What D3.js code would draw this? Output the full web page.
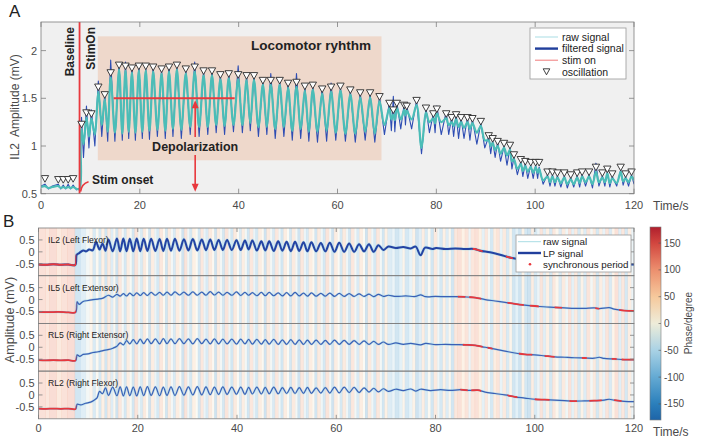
<!DOCTYPE html>
<html><head><meta charset="utf-8">
<script src="https://cdn.jsdelivr.net/npm/d3@7"></script>
<style>
body{margin:0;background:#fff}
text{font-family:"Liberation Sans",Arial,Helvetica,sans-serif}
</style>
</head><body>
<svg id="c" width="708" height="443"></svg>
<script>
// ===================== DATA =====================
const xTicks = [0,20,40,60,80,100,120];
const yTicksA = [0.5,1,1.5,2];
const yTicksB = [-0.5,0,0.5];
const cbTicks = [150,100,50,0,-50,-100,-150];

// Panel A: filtered (smooth) signal [time s, mV]
const filtered = [[0,0.57],[0.8,0.58],[1.5,0.56],[2.3,0.57],[3.5,0.58],[4.0,0.56],[4.5,0.57],[5.0,0.56],[5.5,0.57],[6.0,0.56],[6.5,0.57],[7.2,0.55],[7.8,0.55],
[8.0,1.05],[8.2,1.18],[8.6,1.02],[9.2,1.30],[9.7,1.10],[10.2,1.29],[10.9,1.12],[11.6,1.57],[12.3,1.22],[12.9,1.49],[13.5,1.15],
[14.1,1.72],[14.95,1.14],[15.8,1.80],[16.45,1.13],[17.1,1.79],[17.75,1.15],[18.4,1.77],[19.1,1.14],[19.8,1.79],[20.5,1.15],[21.2,1.79],[21.95,1.16],[22.7,1.78],[23.55,1.17],[24.4,1.76],[25.15,1.16],[25.9,1.78],[26.7,1.18],[27.5,1.80],[28.4,1.17],[29.3,1.76],[30.2,1.20],[31.1,1.78],[32.0,1.20],[32.9,1.74],[33.75,1.20],[34.6,1.74],[35.45,1.22],[36.3,1.70],[37.15,1.21],[38.0,1.71],[38.95,1.22],[39.9,1.70],[40.75,1.22],[41.6,1.69],[42.35,1.24],[43.1,1.69],[44.0,1.20],[44.9,1.64],[45.7,1.20],[46.5,1.64],[47.4,1.18],[48.3,1.64],[49.15,1.20],[50.0,1.61],[50.85,1.16],[51.7,1.62],[52.55,1.18],[53.4,1.58],[54.2,1.15],[55.0,1.59],[55.95,1.15],[56.9,1.55],[57.8,1.16],[58.7,1.57],[59.65,1.14],[60.6,1.58],[61.6,1.13],[62.6,1.54],[63.6,1.13],[64.6,1.51],[65.6,1.15],[66.6,1.51],[67.55,1.13],[68.5,1.47],[69.5,1.22],
[70.5,1.40],[70.9,1.28],[71.3,1.33],[71.6,1.27],[72.0,1.40],[72.8,1.28],[73.5,1.38],[73.75,1.32],[74.0,1.37],[75.0,1.28],[76.0,1.43],[77.0,0.98],[77.9,1.35],[78.6,1.25],[79.4,1.29],[79.75,1.24],[80.1,1.34],[81.0,1.25],[82.0,1.29],[82.5,1.22],[83.1,1.25],[83.5,1.21],[84.0,1.28],[84.5,1.20],[85.0,1.25],[85.6,1.19],[86.3,1.25],[86.8,1.18],[87.3,1.24],[88.2,1.14],[89.0,1.21],[89.8,1.06],[90.6,1.06],[91.0,1.00],[91.4,1.03],[91.9,0.96],[92.4,1.00],[93.0,0.92],[93.7,0.98],[94.3,0.90],[94.9,0.96],[95.3,0.84],[95.7,0.86],[96.4,0.76],[97.1,0.81],[97.5,0.74],[98.0,0.79],[98.5,0.73],[99.1,0.78],[99.6,0.72],[100.1,0.78],[100.5,0.72],[100.8,0.76],[101.6,0.64],[102.5,0.68],[103.0,0.62],[103.5,0.68],[104.0,0.62],[104.5,0.67],[105.2,0.61],[105.9,0.67],[106.5,0.60],[107.2,0.65],[107.8,0.60],[108.5,0.67],[109.0,0.61],[109.5,0.68],[110.2,0.62],[110.9,0.68],[111.6,0.60],[112.3,0.73],[112.9,0.62],[113.6,0.67],[114.1,0.62],[114.6,0.71],[115.1,0.61],[115.6,0.66],[116.5,0.61],[117.3,0.73],[117.8,0.63],[118.3,0.66],[118.9,0.62],[119.5,0.68],[120.0,0.64]];

// Panel A: raw (noisy) signal [time s, mV]
const raw = [[0,0.58],[0.8,0.60],[1.5,0.55],[2.3,0.58],[3.5,0.60],[4.0,0.55],[4.5,0.59],[5.0,0.55],[5.5,0.60],[6.0,0.55],[6.5,0.59],[7.2,0.54],[7.8,0.56],
[8.0,0.90],[8.2,1.30],[8.6,0.88],[9.2,1.42],[9.7,0.98],[10.2,1.38],[10.9,1.00],[11.6,1.68],[12.3,1.10],[12.9,1.55],[13.5,1.05],
[14.1,1.90],[14.95,1.05],[15.8,1.86],[16.45,1.06],[17.1,1.88],[17.75,1.08],[18.4,1.83],[19.1,1.06],[19.8,1.85],[20.5,1.08],[21.2,1.83],[21.95,1.07],[22.7,1.84],[23.55,1.10],[24.4,1.81],[25.15,1.08],[25.9,1.85],[26.7,1.10],[27.5,1.84],[28.4,1.08],[29.3,1.80],[30.2,1.12],[31.1,1.88],[32.0,1.10],[32.9,1.79],[33.75,1.12],[34.6,1.80],[35.45,1.14],[36.3,1.75],[37.15,1.12],[38.0,1.77],[38.95,1.15],[39.9,1.84],[40.75,1.14],[41.6,1.74],[42.35,1.16],[43.1,1.74],[44.0,1.10],[44.9,1.69],[45.7,1.12],[46.5,1.76],[47.4,1.08],[48.3,1.69],[49.15,1.10],[50.0,1.66],[50.85,1.06],[51.7,1.76],[52.55,1.08],[53.4,1.63],[54.2,1.05],[55.0,1.64],[55.95,1.04],[56.9,1.61],[57.8,1.05],[58.7,1.66],[59.65,1.06],[60.6,1.62],[61.6,1.05],[62.6,1.58],[63.6,1.04],[64.6,1.56],[65.6,1.06],[66.6,1.55],[67.55,1.04],[68.5,1.52],[69.5,1.12],
[70.5,1.46],[70.9,1.16],[71.3,1.52],[71.6,1.15],[72.0,1.46],[72.8,1.18],[73.5,1.44],[73.75,1.22],[74.0,1.42],[75.0,1.18],[76.0,1.48],[77.0,0.92],[77.9,1.40],[78.6,1.14],[79.4,1.34],[79.75,1.14],[80.1,1.42],[81.0,1.12],[82.0,1.36],[82.5,1.12],[83.1,1.30],[83.5,1.10],[84.0,1.34],[84.5,1.08],[85.0,1.30],[85.6,1.08],[86.3,1.30],[86.8,1.06],[87.3,1.28],[88.2,1.02],[89.0,1.24],[89.8,0.98],[90.6,1.10],[91.0,0.92],[91.4,1.06],[91.9,0.88],[92.4,1.04],[93.0,0.84],[93.7,1.00],[94.3,0.80],[94.9,0.98],[95.3,0.76],[95.7,0.88],[96.4,0.70],[97.1,0.84],[97.5,0.68],[98.0,0.82],[98.5,0.66],[99.1,0.80],[99.6,0.66],[100.1,0.80],[100.5,0.66],[100.8,0.78],[101.6,0.60],[102.5,0.70],[103.0,0.58],[103.5,0.70],[104.0,0.58],[104.5,0.69],[105.2,0.57],[105.9,0.69],[106.5,0.56],[107.2,0.67],[107.8,0.57],[108.5,0.69],[109.0,0.57],[109.5,0.70],[110.2,0.58],[110.9,0.70],[111.6,0.56],[112.3,0.82],[112.9,0.58],[113.6,0.69],[114.1,0.58],[114.6,0.73],[115.1,0.57],[115.6,0.68],[116.5,0.58],[117.3,0.75],[117.8,0.59],[118.3,0.68],[118.9,0.58],[119.5,0.70],[120.0,0.60]];

// Panel A: detected oscillation peaks [time s, mV]
const oscillation = [[0.8,0.61],[3.5,0.60],[4.5,0.60],[5.5,0.60],[6.5,0.61],[8.2,1.18],[9.2,1.30],[10.2,1.29],[11.6,1.57],[12.9,1.49],[14.1,1.72],[15.8,1.80],[17.1,1.79],[18.4,1.77],[19.8,1.79],[21.2,1.79],[22.7,1.78],[24.4,1.76],[25.9,1.78],[27.5,1.80],[29.3,1.76],[31.1,1.78],[32.9,1.74],[34.6,1.74],[36.3,1.70],[38.0,1.71],[39.9,1.70],[41.6,1.69],[43.1,1.69],[44.9,1.64],[46.5,1.64],[48.3,1.64],[50.0,1.61],[51.7,1.62],[53.4,1.58],[55.0,1.59],[56.9,1.55],[58.7,1.57],[60.6,1.58],[62.6,1.54],[64.6,1.51],[66.6,1.51],[68.5,1.47],[70.5,1.40],[71.3,1.33],[72.0,1.40],[73.5,1.38],[74.0,1.37],[76.0,1.43],[77.9,1.35],[79.4,1.29],[80.1,1.34],[82.0,1.29],[83.1,1.25],[84.0,1.28],[85.0,1.25],[86.3,1.25],[87.3,1.24],[89.0,1.21],[90.6,1.06],[91.4,1.03],[92.4,1.00],[93.7,0.98],[94.9,0.96],[95.7,0.86],[97.1,0.81],[98.0,0.79],[99.1,0.78],[100.1,0.78],[100.8,0.78],[102.5,0.68],[103.5,0.68],[104.5,0.67],[105.9,0.67],[107.2,0.65],[108.5,0.67],[109.5,0.68],[110.9,0.68],[112.3,0.73],[113.6,0.67],[114.6,0.71],[115.6,0.66],[117.3,0.73],[118.3,0.66],[119.5,0.68]];

// Panel A annotations (data units)
const stimOnTime = 7.8;
const rhythmSpan = [11.5, 68.9];
const rhythmRange = [0.85, 2.15];
const depolLevel = 1.5;
const depolSpan = [14.7, 39.2];
const depolArrowTime = 31.2;

// Panel B: LP signals [time s, mV]
const il2 = [[0,-0.53],[1.5,-0.54],[3,-0.52],[4.5,-0.54],[6,-0.53],[7.4,-0.55],[7.7,-0.12],[8.2,-0.05],[9,0.06],[9.6,0.02],[10.2,0.10],[10.9,0.06],[11.6,0.40],[12.3,0.10],[12.9,0.35],[13.5,0.05],
[14.1,0.52],[14.95,0.02],[15.8,0.56],[16.45,0.02],[17.1,0.56],[17.75,0.03],[18.4,0.55],[19.1,0.02],[19.8,0.56],[20.5,0.03],[21.2,0.55],[21.95,0.04],[22.7,0.55],[23.55,0.04],[24.4,0.54],[25.15,0.04],[25.9,0.55],[26.7,0.05],[27.5,0.55],[28.4,0.05],[29.3,0.53],[30.2,0.06],[31.1,0.54],[32.0,0.06],[32.9,0.52],[33.75,0.07],[34.6,0.52],[35.45,0.08],[36.3,0.50],[37.15,0.08],[38.0,0.50],[38.95,0.08],[39.9,0.49],[40.75,0.08],[41.6,0.48],[42.35,0.10],[43.1,0.48],[44.0,0.06],[44.9,0.44],[45.7,0.06],[46.5,0.44],[47.4,0.04],[48.3,0.44],[49.15,0.05],[50.0,0.42],[50.85,0.03],[51.7,0.42],[52.55,0.04],[53.4,0.40],[54.2,0.02],[55.0,0.40],[55.95,0.02],[56.9,0.37],[57.8,0.02],[58.7,0.38],[59.65,0.00],[60.6,0.38],[61.6,0.00],[62.6,0.35],[63.6,0.00],[64.6,0.32],[65.6,0.02],[66.6,0.32],[67.55,0.00],[68.5,0.28],[69.5,0.08],
[70.5,0.22],[72,0.16],[73.5,0.20],[75,0.14],[76,0.22],[77,-0.14],[77.9,0.18],[79.4,0.12],[80.1,0.16],[82,0.12],[84,0.14],[86,0.12],[87.8,0.12],[89,0.05],[91,-0.02],[93,-0.12],[95.2,-0.25],[97,-0.32],[100,-0.40],[105,-0.46],[110,-0.50],[115,-0.52],[120,-0.53]];

const il5 = [[0,-0.52],[2,-0.53],[4,-0.52],[6,-0.54],[7.5,-0.53],[7.8,-0.10],[8.2,-0.20],[9,-0.08],[10,-0.04],[11,0.00],[12,0.02],[13,0.06],
[14.1,0.18],[14.95,0.10],[15.8,0.22],[16.45,0.14],[17.1,0.25],[17.75,0.15],[18.4,0.27],[19.1,0.16],[19.8,0.28],[20.5,0.17],[21.2,0.29],[21.95,0.17],[22.7,0.30],[23.55,0.18],[24.4,0.30],[25.15,0.18],[25.9,0.31],[26.7,0.18],[27.5,0.32],[28.4,0.19],[29.3,0.31],[30.2,0.18],[31.1,0.32],[32.0,0.18],[32.9,0.31],[33.75,0.18],[34.6,0.33],[35.45,0.19],[36.3,0.31],[37.15,0.18],[38.0,0.30],[38.95,0.18],[39.9,0.32],[40.75,0.17],[41.6,0.30],[42.35,0.18],[43.1,0.29],[44.0,0.16],[44.9,0.30],[45.7,0.16],[46.5,0.30],[47.4,0.16],[48.3,0.28],[49.15,0.15],[50.0,0.29],[50.85,0.15],[51.7,0.30],[52.55,0.15],[53.4,0.27],[54.2,0.14],[55.0,0.28],[55.95,0.14],[56.9,0.26],[57.8,0.14],[58.7,0.27],[59.65,0.13],[60.6,0.26],[61.6,0.13],[62.6,0.25],[63.6,0.13],[64.6,0.24],[65.6,0.13],[66.6,0.23],[67.55,0.12],[68.5,0.22],[69.5,0.13],
[70.5,0.18],[72,0.13],[74,0.15],[76,0.13],[77,0.20],[78,0.12],[80,0.13],[82,0.12],[84,0.12],[86,0.11],[88,0.08],[90,0.00],[92,-0.06],[94,-0.12],[96,-0.18],[98,-0.23],[100,-0.27],[103,-0.32],[106,-0.35],[108,-0.37],[110,-0.37],[112,-0.35],[113,-0.38],[115,-0.34],[116,-0.40],[118,-0.46],[120,-0.48]];

const rl5 = [[0,-0.54],[1.5,-0.55],[3,-0.54],[4.5,-0.55],[6,-0.54],[7.5,-0.56],[7.8,-0.32],[8.3,-0.38],[9,-0.30],[10,-0.28],[11,-0.22],[12,-0.19],[13,-0.14],[14,-0.10],[15,-0.04],[15.8,0.04],
[16.45,0.18],[17.1,0.10],[17.75,0.28],[18.4,0.14],[19.1,0.32],[19.8,0.14],[20.5,0.34],[21.2,0.15],[21.95,0.35],[22.7,0.15],[23.55,0.35],[24.4,0.14],[25.15,0.36],[25.9,0.15],[26.7,0.35],[27.5,0.15],[28.4,0.36],[29.3,0.15],[30.2,0.35],[31.1,0.14],[32.0,0.36],[32.9,0.15],[33.75,0.34],[34.6,0.14],[35.45,0.35],[36.3,0.14],[37.15,0.34],[38.0,0.14],[38.95,0.34],[39.9,0.13],[40.75,0.34],[41.6,0.14],[42.35,0.33],[43.1,0.13],[44.0,0.33],[44.9,0.13],[45.7,0.32],[46.5,0.13],[47.4,0.33],[48.3,0.12],[49.15,0.31],[50.0,0.12],[50.85,0.32],[51.7,0.12],[52.55,0.31],[53.4,0.12],[54.2,0.30],[55.0,0.12],[55.95,0.30],[56.9,0.12],[57.8,0.29],[58.7,0.12],[59.65,0.30],[60.6,0.12],[61.6,0.29],[62.6,0.12],[63.6,0.28],[64.6,0.12],[65.6,0.27],[66.6,0.12],[67.55,0.25],[68.5,0.12],[69.5,0.22],[70.5,0.12],
[72,0.18],[73.5,0.12],[75,0.16],[77,0.10],[78,0.16],[80,0.11],[82,0.12],[84,0.11],[86,0.10],[88,0.08],[90,0.00],[92,-0.08],[94,-0.16],[96,-0.24],[98,-0.30],[100,-0.32],[102,-0.36],[104,-0.40],[106,-0.42],[108,-0.44],[110,-0.45],[112,-0.46],[113,-0.42],[114,-0.47],[116,-0.49],[118,-0.52],[120,-0.52]];

const rl2 = [[0,-0.57],[1.5,-0.58],[3,-0.57],[4.5,-0.58],[6,-0.57],[7.5,-0.59],[7.8,-0.39],[8.5,-0.42],[9.5,-0.35],[10.5,-0.30],[11.2,-0.22],[11.8,-0.12],[12.3,0.15],[12.9,0.05],[13.5,0.30],
[14.1,-0.02],[14.95,0.33],[15.8,-0.03],[16.45,0.34],[17.1,-0.04],[17.75,0.34],[18.4,-0.03],[19.1,0.33],[19.8,-0.04],[20.5,0.34],[21.2,-0.03],[21.95,0.35],[22.7,-0.02],[23.55,0.34],[24.4,-0.03],[25.15,0.33],[25.9,-0.02],[26.7,0.34],[27.5,-0.02],[28.4,0.35],[29.3,-0.01],[30.2,0.34],[31.1,0.00],[32.0,0.35],[32.9,0.00],[33.75,0.34],[34.6,0.01],[35.45,0.33],[36.3,0.02],[37.15,0.34],[38.0,0.02],[38.95,0.33],[39.9,0.03],[40.75,0.33],[41.6,0.03],[42.35,0.32],[43.1,0.04],[44.0,0.33],[44.9,0.04],[45.7,0.32],[46.5,0.05],[47.4,0.33],[48.3,0.05],[49.15,0.31],[50.0,0.06],[50.85,0.32],[51.7,0.06],[52.55,0.31],[53.4,0.07],[54.2,0.32],[55.0,0.07],[55.95,0.30],[56.9,0.08],[57.8,0.31],[58.7,0.08],[59.65,0.33],[60.6,0.09],[61.6,0.33],[62.6,0.10],[63.6,0.32],[64.6,0.10],[65.6,0.30],[66.6,0.12],[67.55,0.28],[68.5,0.13],[69.5,0.26],[70.5,0.15],
[72,0.24],[73.5,0.18],[75,0.25],[76,0.16],[77,0.24],[79,0.18],[81,0.22],[83,0.19],[85,0.22],[87,0.19],[88.5,0.20],[90,0.12],[92,0.06],[94,0.00],[96,-0.08],[98,-0.13],[100,-0.18],[102,-0.20],[104,-0.22],[106,-0.24],[108,-0.26],[110,-0.25],[112,-0.24],[114,-0.22],[115,-0.18],[116,-0.22],[118,-0.27],[120,-0.28]];

// synchronous periods [start s, end s]
const il2Sync = [[0,7.6],[87.5,89.5],[94.2,95.6],[99,100.5],[104,106]];
const il5Sync = [[0,7.6],[84.5,86],[86.8,89.2],[94.5,97.8],[99,100.8],[104,105.5],[112.2,113],[117,120]];
const rl5Sync = [[0,7.6],[85.5,89.5],[90.5,91.5],[96.8,99.5],[102,104],[109.5,110.5],[115.5,116.5],[117.5,120]];
const rl2Sync = [[0,7.6],[85,86.5],[87.2,89.2],[94.5,96.5],[100,103],[107,108.5],[111,113.5],[116,117.5]];

const channelNames = ['IL2 (Left Flexor)','IL5 (Left Extensor)','RL5 (Right Extensor)','RL2 (Right Flexor)'];

// Panel B: phase background [stripe start s, phase degree]
const phaseStripes = [[0,100],[1.4,80],[2.2,110],[3.6,70],[4.6,95],[5.8,110],[7.3,-110],[8.4,-70],[9.5,-20],[10.3,30],[10.9,-90],[11.5,10],[12.1,-100],[12.6,50],[13.3,-110],[13.8,70],[14.5,-80],[15.0,20],[15.5,-120],[16.0,80],[16.7,-20],[17.2,-100],[17.7,60],[18.3,-10],[18.8,-110],[19.3,90],[20.0,-30],[20.5,-90],[21.0,70],[21.6,0],[22.1,-120],[22.6,60],[23.3,-40],[23.8,-100],[24.3,80],[25.0,10],[25.5,-110],[26.0,70],[26.6,-20],[27.1,-90],[27.6,60],[28.3,-10],[28.8,-120],[29.3,90],[29.9,-30],[30.4,-100],[30.9,50],[31.6,0],[32.1,-110],[32.6,80],[33.2,-40],[33.7,-90],[34.2,70],[34.9,10],[35.4,-120],[35.9,60],[36.5,-20],[37.0,-100],[37.5,90],[38.2,-30],[38.7,-110],[39.2,70],[39.9,0],[40.4,-90],[40.9,60],[41.5,-20],[42.0,-110],[42.5,80],[43.2,-40],[43.7,-100],[44.2,60],[44.9,10],[45.4,-120],[45.9,70],[46.6,-20],[47.1,-90],[47.6,80],[48.3,-30],[48.8,-110],[49.3,60],[50.0,0],[50.5,-100],[51.0,70],[51.7,-20],[52.2,-120],[52.7,80],[53.4,-40],[53.9,-90],[54.4,60],[55.1,10],[55.6,-110],[56.1,70],[56.8,-30],[57.3,-100],[57.8,90],[58.5,-20],[59.0,-120],[59.5,60],[60.2,0],[60.7,-100],[61.2,70],[61.9,-30],[62.4,-110],[62.9,80],[63.6,-20],[64.1,-90],[64.6,60],[65.3,0],[65.8,-120],[66.3,70],[67.0,-30],[67.5,-100],[68.0,80],[68.7,-20],[69.2,-110],[69.7,50],[70.3,-80],[71.2,-40],[71.8,-110],[72.6,-60],[73.3,30],[73.8,-100],[74.6,-50],[75.3,40],[75.9,-120],[76.5,-70],[77.2,60],[77.8,-90],[78.4,10],[79.0,-110],[79.6,70],[80.3,-30],[80.8,-100],[81.4,50],[82.0,-80],[82.6,20],[83.1,-110],[83.7,80],[84.4,100],[85.2,40],[85.9,90],[86.6,-40],[87.1,80],[87.9,100],[88.6,50],[89.3,-60],[89.9,80],[90.5,-20],[91.0,-100],[91.6,60],[92.3,90],[92.9,-50],[93.5,70],[94.2,-90],[94.8,30],[95.4,-110],[96.0,-60],[96.7,-120],[97.3,40],[97.9,-100],[98.5,-120],[99.2,60],[99.8,-90],[100.4,-40],[101.0,90],[101.6,-70],[102.2,50],[102.9,-100],[103.5,80],[104.1,20],[104.8,-90],[105.4,70],[106.1,-30],[106.7,100],[107.3,-60],[107.9,70],[108.6,-100],[109.2,40],[109.8,-80],[110.4,90],[111.1,-20],[111.7,70],[112.3,-100],[112.9,60],[113.6,-50],[114.2,90],[114.9,-90],[115.5,30],[116.1,100],[116.8,-70],[117.4,80],[118.1,-100],[118.7,60],[119.4,-40]];
const tEnd = 120;

// ===================== DRAWING =====================
const svg = d3.select('#c');
const FONT_TICK = 11, AX = '#7d7d7d', TXT = '#4a4a4a', RED = '#e8383d';
const smooth = d3.curveCatmullRom.alpha(0.5);

// ---------- Panel A ----------
const xA = d3.scaleLinear([0,120],[41,634]);
const yA = d3.scaleLinear([0.5,2.3],[193.7,22]);
const A = svg.append('g');
const aX0 = xA.range()[0], aX1 = xA.range()[1], aY0 = yA.range()[1], aY1 = yA.range()[0];
const defs = svg.append('defs');
defs.append('clipPath').attr('id','clipA').append('rect')
  .attr('x',aX0).attr('y',aY0).attr('width',aX1-aX0).attr('height',aY1-aY0);
A.append('rect').attr('x',aX0).attr('y',aY0).attr('width',aX1-aX0).attr('height',aY1-aY0).attr('fill','#f0f0f0');
A.append('rect').attr('x',xA(rhythmSpan[0])).attr('y',yA(rhythmRange[1]))
  .attr('width',xA(rhythmSpan[1])-xA(rhythmSpan[0])).attr('height',yA(rhythmRange[0])-yA(rhythmRange[1]))
  .attr('fill','#eed8cb');
const lineRaw = d3.line().x(d=>xA(d[0])).y(d=>yA(d[1]));
const lineFilt = d3.line().x(d=>xA(d[0])).y(d=>yA(d[1])).curve(smooth);
const gClipA = A.append('g').attr('clip-path','url(#clipA)');
gClipA.append('path').attr('d',lineRaw(raw)).attr('fill','none').attr('stroke','#2e4db3').attr('stroke-width',1.1).attr('stroke-linejoin','round');
gClipA.append('path').attr('d',lineFilt(filtered)).attr('fill','none').attr('stroke','#4bbdb7').attr('stroke-width',2.2).attr('stroke-linejoin','round');
// stim on line
A.append('line').attr('x1',xA(stimOnTime)).attr('x2',xA(stimOnTime)).attr('y1',aY0).attr('y2',aY1).attr('stroke',RED).attr('stroke-width',1.8);
// oscillation markers
A.append('g').selectAll('path').data(oscillation).join('path')
  .attr('d',d=>{const x=xA(d[0]),y=yA(d[1]);return `M${x-3.7},${y-7.6}L${x+3.7},${y-7.6}L${x},${y-1}Z`;})
  .attr('fill','#fff').attr('stroke','#2a2a2a').attr('stroke-width',0.9);
// depolarization level line
A.append('line').attr('x1',xA(depolSpan[0])).attr('x2',xA(depolSpan[1])).attr('y1',yA(depolLevel)).attr('y2',yA(depolLevel)).attr('stroke',RED).attr('stroke-width',2);
// double arrow
const ax = xA(depolArrowTime), ayTop = yA(depolLevel)+2, ayBot = yA(0.5)-2;
A.append('line').attr('x1',ax).attr('x2',ax).attr('y1',ayTop+6).attr('y2',137).attr('stroke',RED).attr('stroke-width',1.6);
A.append('line').attr('x1',ax).attr('x2',ax).attr('y1',155).attr('y2',ayBot-6).attr('stroke',RED).attr('stroke-width',1.6);
A.append('path').attr('d',`M${ax},${ayTop}L${ax-3.5},${ayTop+8}L${ax+3.5},${ayTop+8}Z`).attr('fill',RED);
A.append('path').attr('d',`M${ax},${ayBot}L${ax-3.5},${ayBot-8}L${ax+3.5},${ayBot-8}Z`).attr('fill',RED);
// stim onset curved arrow
const sx = xA(stimOnTime);
A.append('path').attr('d',`M${sx+1},${aY1-2} Q${sx+2},${aY1-10} ${sx+9},${aY1-12}`).attr('fill','none').attr('stroke',RED).attr('stroke-width',1.6);
// box and ticks
A.append('rect').attr('x',aX0).attr('y',aY0).attr('width',aX1-aX0).attr('height',aY1-aY0).attr('fill','none').attr('stroke',AX).attr('stroke-width',0.8);
xTicks.forEach(t=>{
  A.append('line').attr('x1',xA(t)).attr('x2',xA(t)).attr('y1',aY1).attr('y2',aY1-5).attr('stroke',AX).attr('stroke-width',0.8);
  A.append('line').attr('x1',xA(t)).attr('x2',xA(t)).attr('y1',aY0).attr('y2',aY0+5).attr('stroke',AX).attr('stroke-width',0.8);
  A.append('text').attr('x',xA(t)).attr('y',aY1+15.5).attr('text-anchor','middle').attr('font-size',FONT_TICK).attr('fill',TXT).text(t);
});
yTicksA.forEach(v=>{
  A.append('line').attr('x1',aX0).attr('x2',aX0+5).attr('y1',yA(v)).attr('y2',yA(v)).attr('stroke',AX).attr('stroke-width',0.8);
  A.append('line').attr('x1',aX1).attr('x2',aX1-5).attr('y1',yA(v)).attr('y2',yA(v)).attr('stroke',AX).attr('stroke-width',0.8);
  A.append('text').attr('x',aX0-4).attr('y',yA(v)+4).attr('text-anchor','end').attr('font-size',FONT_TICK).attr('fill',TXT).text(v);
});
A.append('text').attr('x',653).attr('y',209.5).attr('font-size',12).attr('fill',TXT).text('Time/s');
A.append('text').attr('transform','translate(19,107) rotate(-90)').attr('text-anchor','middle').attr('font-size',12).attr('fill',TXT).attr('xml:space','preserve').text('IL2  Amplitude (mV)');
A.append('text').attr('x',9).attr('y',17).attr('font-size',17).attr('fill','#222').text('A');
// annotation texts
const bold = (sel)=>sel.attr('font-weight','bold').attr('fill','#222');
bold(A.append('text').attr('transform','translate(73.5,27) rotate(-90)').attr('text-anchor','end').attr('font-size',12).text('Baseline'));
bold(A.append('text').attr('transform','translate(95,27) rotate(-90)').attr('text-anchor','end').attr('font-size',12).text('StimOn'));
bold(A.append('text').attr('x',92).attr('y',184).attr('font-size',12).text('Stim onset'));
bold(A.append('text').attr('x',ax).attr('y',150.5).attr('text-anchor','middle').attr('font-size',12.5).text('Depolarization'));
bold(A.append('text').attr('x',311).attr('y',50).attr('text-anchor','middle').attr('font-size',13.5).text('Locomotor ryhthm'));
// legend A
const LA = A.append('g');
LA.append('rect').attr('x',530).attr('y',28).attr('width',96).attr('height',51).attr('fill','#fff').attr('stroke','#9a9a9a').attr('stroke-width',0.8);
const legA = [['raw signal','#a9dde4',1],['filtered signal','#213f9c',2.4],['stim on','#f07a7a',1],['oscillation',null,0]];
legA.forEach((e,i)=>{
  const y = 37+i*11.6;
  if(e[1]) LA.append('line').attr('x1',535).attr('x2',558).attr('y1',y).attr('y2',y).attr('stroke',e[1]).attr('stroke-width',e[2]);
  else LA.append('path').attr('d',`M${546.5-3.3},${y-3}L${546.5+3.3},${y-3}L${546.5},${y+3}Z`).attr('fill','#fff').attr('stroke','#2a2a2a').attr('stroke-width',0.9);
  LA.append('text').attr('x',562).attr('y',y+3.8).attr('font-size',10.5).attr('fill','#222').text(e[0]);
});

// ---------- Panel B ----------
const xB = d3.scaleLinear([0,120],[38.5,634]);
const bTop = 228, bH = 47.7;
const bX0 = xB.range()[0], bX1 = xB.range()[1];
const B = svg.append('g');
const phaseColor = d3.scaleLinear().domain([-180,-150,-100,-50,0,50,100,150,180])
  .range(['#1d64a8','#2b7fbb','#64aad3','#a9d2e5','#eeecd9','#f6c99c','#ec8f6e','#d2463f','#b01f2d']);
defs.append('clipPath').attr('id','clipB').append('rect').attr('x',bX0).attr('y',bTop).attr('width',bX1-bX0).attr('height',4*bH);
const stripeG = B.append('g').attr('clip-path','url(#clipB)');
stripeG.append('rect').attr('x',bX0).attr('y',bTop).attr('width',bX1-bX0).attr('height',4*bH).attr('fill','#fff');
phaseStripes.forEach((s,i)=>{
  const t1 = i<phaseStripes.length-1 ? phaseStripes[i+1][0] : tEnd;
  stripeG.append('rect').attr('x',xB(s[0])).attr('y',bTop).attr('width',Math.max(0,xB(t1)-xB(s[0]))+0.4).attr('height',4*bH)
    .attr('fill',phaseColor(s[1])).attr('opacity',0.27);
});
const chData = [il2, il5, rl5, rl2];
const chSync = [il2Sync, il5Sync, rl5Sync, rl2Sync];
chData.forEach((data,k)=>{
  const top = bTop + k*bH;
  const yB = d3.scaleLinear([-1,1],[top+bH, top]);
  const ln = d3.line().x(d=>xB(d[0])).y(d=>yB(d[1])).curve(smooth);
  const cid = 'clipS'+k;
  const cp = defs.append('clipPath').attr('id',cid);
  chSync[k].forEach(iv=>cp.append('rect').attr('x',xB(iv[0])).attr('y',top).attr('width',xB(iv[1])-xB(iv[0])).attr('height',bH));
  const g = B.append('g');
  g.append('path').attr('d',ln(data)).attr('fill','none').attr('stroke','#9ad8e6').attr('stroke-width',k===0?3.2:2.4).attr('opacity',0.5);
  g.append('path').attr('d',ln(data)).attr('fill','none').attr('stroke',k===0?'#2443a3':'#3b5fb6').attr('stroke-width',k===0?2:1.2).attr('stroke-linejoin','round');
  g.append('path').attr('d',ln(data)).attr('fill','none').attr('stroke',RED).attr('stroke-width',1.8).attr('clip-path',`url(#${cid})`);
  g.append('rect').attr('x',bX0).attr('y',top).attr('width',bX1-bX0).attr('height',bH).attr('fill','none').attr('stroke',AX).attr('stroke-width',0.8);
  yTicksB.forEach(v=>{
    g.append('line').attr('x1',bX0).attr('x2',bX0+4).attr('y1',yB(v)).attr('y2',yB(v)).attr('stroke',AX).attr('stroke-width',0.8);
    g.append('line').attr('x1',bX1).attr('x2',bX1-4).attr('y1',yB(v)).attr('y2',yB(v)).attr('stroke',AX).attr('stroke-width',0.8);
    g.append('text').attr('x',bX0-4).attr('y',yB(v)+4).attr('text-anchor','end').attr('font-size',FONT_TICK).attr('fill',TXT).text(v);
  });
  g.append('text').attr('x',bX0+9.5).attr('y',top+15).attr('font-size',8.6).attr('fill','#222').text(channelNames[k]);
});
const bBot = bTop + 4*bH;
xTicks.forEach(t=>{
  B.append('line').attr('x1',xB(t)).attr('x2',xB(t)).attr('y1',bBot).attr('y2',bBot-4).attr('stroke',AX).attr('stroke-width',0.8);
  B.append('line').attr('x1',xB(t)).attr('x2',xB(t)).attr('y1',bTop).attr('y2',bTop+4).attr('stroke',AX).attr('stroke-width',0.8);
  B.append('text').attr('x',xB(t)).attr('y',bBot+13).attr('text-anchor','middle').attr('font-size',FONT_TICK).attr('fill',TXT).text(t);
});
B.append('text').attr('x',653).attr('y',436).attr('font-size',12).attr('fill',TXT).text('Time/s');
B.append('text').attr('transform','translate(14,320) rotate(-90)').attr('text-anchor','middle').attr('font-size',12.5).attr('fill',TXT).text('Amplitude (mV)');
B.append('text').attr('x',3).attr('y',227).attr('font-size',17).attr('fill','#222').text('B');
// legend B
const LB = B.append('g');
LB.append('rect').attr('x',516).attr('y',235).attr('width',115).attr('height',37).attr('fill','#fff').attr('stroke','#9a9a9a').attr('stroke-width',0.8);
const legB = [['raw signal','#a9dde4',1],['LP signal','#213f9c',2.4],['synchronous period',null,0]];
legB.forEach((e,i)=>{
  const y = 241.7+i*11.3;
  if(e[1]) LB.append('line').attr('x1',518).attr('x2',541).attr('y1',y).attr('y2',y).attr('stroke',e[1]).attr('stroke-width',e[2]);
  else LB.append('circle').attr('cx',530).attr('cy',y).attr('r',1.3).attr('fill',RED);
  LB.append('text').attr('x',543).attr('y',y+3.6).attr('font-size',9.8).attr('fill','#222').text(e[0]);
});
// colorbar
const cbY = d3.scaleLinear([-180,180],[420,227]);
const grad = defs.append('linearGradient').attr('id','cbg').attr('x1',0).attr('x2',0).attr('y1',1).attr('y2',0);
d3.range(0,37).forEach(i=>{const v=-180+i*10; grad.append('stop').attr('offset',(i/36)).attr('stop-color',phaseColor(v));});
B.append('rect').attr('x',650).attr('y',cbY(180)).attr('width',11).attr('height',cbY(-180)-cbY(180)).attr('fill','url(#cbg)').attr('stroke',AX).attr('stroke-width',0.6);
cbTicks.forEach(v=>{
  B.append('line').attr('x1',658.5).attr('x2',661).attr('y1',cbY(v)).attr('y2',cbY(v)).attr('stroke','#555').attr('stroke-width',0.6);
  B.append('text').attr('x',664).attr('y',cbY(v)+3.5).attr('font-size',10).attr('fill',TXT).text(v);
});
B.append('text').attr('transform','translate(692,323) rotate(-90)').attr('text-anchor','middle').attr('font-size',10).attr('fill',TXT).text('Phase/degree');
</script>
</body></html>
